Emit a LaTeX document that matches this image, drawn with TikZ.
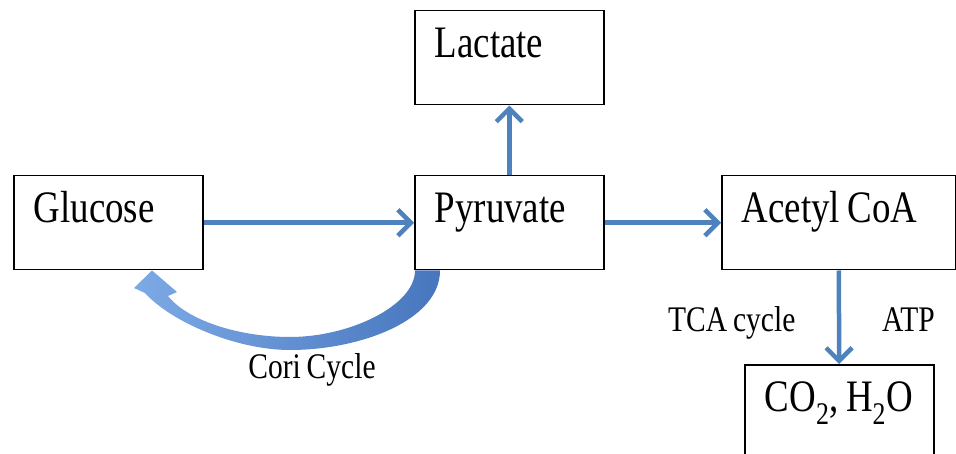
\documentclass[tikz,border=0pt]{standalone}
\usepackage{fontspec}
\setmainfont[FakeStretch=0.82, WordSpace=0.8]{Liberation Serif}
\usetikzlibrary{arrows.meta}
\definecolor{arrowblue}{RGB}{79,129,189}
\definecolor{lightblue}{RGB}{125,170,230}
\definecolor{darkblue}{RGB}{72,118,190}

\begin{document}
\begin{tikzpicture}[x = 1pt, y = -1pt,
        box/.style = {draw, line width = 1.5pt, rectangle, anchor = north west,
            inner xsep = 20pt, inner ysep = 0pt, text height = 47pt, text depth = 47pt,
            align = flush left, font = \fontsize{45}{54}\selectfont},
        flow/.style = {draw = arrowblue, line width = 4.5pt,
            -{Straight Barb[length = 13pt, width = 26pt]}},
        tag/.style = {inner sep = 0pt, anchor = base, font = \fontsize{36}{43}\selectfont}]
        \useasboundingbox (0,0) rectangle (956,454);
        % boxes
        \node[box, text width = 149pt] (L) at (414,10) {Lactate};
        \node[box, text width = 149pt] (G) at (13,175) {Glucose};
        \node[box, text width = 149pt] (P) at (414,175) {Pyruvate};
        \node[box, text width = 194pt] (A) at (721,175) {Acetyl CoA};
        \node[box, text width = 149pt] (C) at (744,364) {\mbox{CO\textsubscript{2}, H\textsubscript{2}O}};
        % arrows
        \draw[flow] (G) -- (P);
        \draw[flow] (P) -- (L);
        \draw[flow] (P) -- (A);
        \draw[flow] (A) -- (C);
        % cori cycle
        \shade[left color = lightblue, right color = darkblue]
            ([xshift = 26pt]P.south west) .. controls +(0,50) and +(70,0) .. (290,350)
            .. controls +(-55,0) and +(25,28) .. (145,293)
            -- (134,288) -- ([xshift = 139pt]G.south west) -- (177,292) -- (168,296)
            .. controls +(20,25) and +(-50,0) .. (290,337)
            .. controls +(60,0) and +(0,35) .. ([xshift = 1pt]P.south west) -- cycle;
        \node[tag] (Cori) at (312,378) {Cori Cycle};
        \node[tag, anchor = base west] (TCA) at (668,332) {TCA cycle};
        \node[tag, anchor = base west] (ATP) at (882,332) {ATP};
    \end{tikzpicture}
\end{document}
